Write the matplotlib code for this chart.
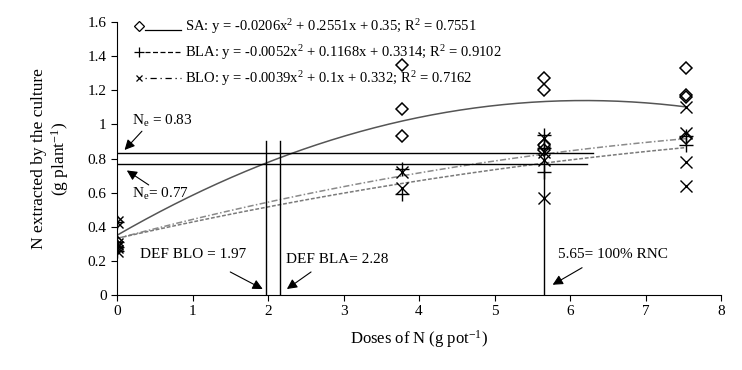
import numpy as np
import matplotlib
matplotlib.use('Agg')
import matplotlib.pyplot as plt
from matplotlib.lines import Line2D
from matplotlib.legend_handler import HandlerBase
from matplotlib.ticker import FuncFormatter, MultipleLocator

plt.rcParams['font.family'] = ['Liberation Serif', 'DejaVu Serif']
plt.rcParams['mathtext.fontset'] = 'custom'
plt.rcParams['mathtext.rm'] = 'Liberation Serif'
plt.rcParams['mathtext.it'] = 'Liberation Serif:italic'

sa_x = [0, 0, 0, 0, 3.77, 3.77, 3.77, 5.65, 5.65, 5.65, 5.65, 7.54, 7.54, 7.54, 7.54]
sa_y = [0.43, 0.31, 0.29, 0.27, 1.35, 1.09, 0.93, 1.27, 1.20, 0.88, 0.85, 1.33, 1.17, 1.16, 0.92]

bla_x = [0, 0, 0, 0, 3.77, 3.77, 5.65, 5.65, 5.65, 7.54, 7.54]
bla_y = [0.43, 0.31, 0.28, 0.26, 0.74, 0.59, 0.94, 0.86, 0.72, 0.93, 0.88]

blo_x = [0, 0, 0, 0, 3.77, 3.77, 5.65, 5.65, 5.65, 5.65, 7.54, 7.54, 7.54, 7.54]
blo_y = [0.43, 0.30, 0.28, 0.26, 0.72, 0.63, 0.92, 0.84, 0.79, 0.57, 1.10, 0.95, 0.78, 0.64]

# quadratic fits (a, b, c) from the equations in the legend
sa_coef = (-0.0206, 0.2551, 0.35)
bla_coef = (-0.0052, 0.1168, 0.3314)
blo_coef = (-0.0039, 0.1, 0.332)

ne_hi, ne_lo = 0.83, 0.77
def_blo, def_bla = 1.97, 2.16
rnc = 5.65


class MarkerThenLine(HandlerBase):
    # marker on the left, line sample to its right
    def create_artists(self, legend, orig_handle, xdescent, ydescent,
                       width, height, fontsize, trans):
        y = height/2 - ydescent
        x0 = -xdescent
        m = Line2D([x0 + 3.5], [y], marker=orig_handle.get_marker(), ls='none',
                   mfc=orig_handle.get_markerfacecolor(), mec='k',
                   ms=orig_handle.get_markersize(), mew=0.9, transform=trans)
        dy = -3 if orig_handle.get_linestyle() == '-' else 0
        l = Line2D([x0 + 8, x0 + width], [y + dy, y + dy], c='k', lw=0.9,
                   ls=orig_handle.get_linestyle(), transform=trans)
        if hasattr(orig_handle, 'dash_spec'):
            l.set_linestyle(orig_handle.dash_spec)
        return [m, l]


fig = plt.figure(figsize=(7.42, 3.70), dpi=100)
ax = fig.add_axes([0.1577, 0.2027, 0.8140, 0.7378])

xx = np.linspace(0, 7.54, 200)
def quad(c, x):
    return c[0]*x**2 + c[1]*x + c[2]

ax.plot(xx, quad(sa_coef, xx), '-', c='#555555', lw=1.1)
ax.plot(xx, quad(bla_coef, xx), linestyle=(0, (4, 1.5, 1, 1.5)), c='#8a8a8a', lw=1.1)
ax.plot(xx, quad(blo_coef, xx), linestyle=(0, (2.5, 1.2)), c='#7a7a7a', lw=1.1)

ax.plot(sa_x, sa_y, 'D', mfc='none', mec='k', ms=6, mew=1.1)
ax.plot(bla_x, bla_y, '+', c='k', ms=10, mew=1.0)
ax.plot(blo_x, blo_y, 'x', c='k', ms=9, mew=1.0)

# reference lines
ax.plot([0, 6.3], [ne_hi, ne_hi], c='k', lw=1.0)
ax.plot([0, 6.22], [ne_lo, ne_lo], c='k', lw=1.0)
ax.plot([def_blo, def_blo], [0, 0.905], c='k', lw=1.0)
ax.plot([def_bla, def_bla], [0, 0.905], c='k', lw=1.0)
ax.plot([rnc, rnc], [0, 0.93], c='k', lw=1.0)

arrow = dict(arrowstyle='-|>', color='k', lw=0.8, mutation_scale=15, shrinkA=0, shrinkB=0)
fs = 11
ax.annotate('', xy=(0.1, 0.85), xytext=(0.33, 0.96), arrowprops=arrow)
ax.text(0.2, 1.02, r'N$_\mathrm{e}$ = 0.83', fontsize=fs, va='center')
ax.annotate('', xy=(0.13, 0.73), xytext=(0.42, 0.645), arrowprops=arrow)
ax.text(0.2, 0.59, r'N$_\mathrm{e}$= 0.77', fontsize=fs, va='center')
ax.annotate('', xy=(1.93, 0.035), xytext=(1.5, 0.135), arrowprops=arrow)
ax.text(0.3, 0.235, 'DEF BLO = 1.97', fontsize=fs, va='center')
ax.annotate('', xy=(2.25, 0.035), xytext=(2.57, 0.135), arrowprops=arrow)
ax.text(2.24, 0.21, 'DEF BLA= 2.28', fontsize=fs, va='center')
ax.annotate('', xy=(5.77, 0.06), xytext=(6.16, 0.16), arrowprops=arrow)
ax.text(5.84, 0.24, '5.65= 100% RNC', fontsize=fs, va='center')

ax.set_xlim(0, 8)
ax.set_ylim(0, 1.6)
ax.xaxis.set_major_locator(MultipleLocator(1))
ax.yaxis.set_major_locator(MultipleLocator(0.2))
ax.yaxis.set_major_formatter(FuncFormatter(lambda v, p: '%g' % round(v, 2)))
ax.spines['top'].set_visible(False)
ax.spines['right'].set_visible(False)
ax.tick_params(direction='out', length=4, labelsize=fs, colors='k')
ax.set_xlabel(r'Doses of N (g pot$^{-1}$)', fontsize=12, labelpad=7)
ax.set_ylabel('N extracted by the culture\n' + r'(g plant$^{-1}$)', fontsize=12.5,
              linespacing=1.1, labelpad=12)

h_sa = Line2D([], [], marker='D', ls='-', mfc='none', ms=5)
h_bla = Line2D([], [], marker='+', ls='--', mfc='k', ms=7)
h_bla.dash_spec = (0, (4, 2))
h_blo = Line2D([], [], marker='x', ls='-.', mfc='k', ms=5)
h_blo.dash_spec = (0, (1, 3, 5, 3))
labels = [r'SA: y = -0.0206x$^2$ + 0.2551x + 0.35; R$^2$ = 0.7551',
          r'BLA: y = -0.0052x$^2$ + 0.1168x + 0.3314; R$^2$ = 0.9102',
          r'BLO: y = -0.0039x$^2$ + 0.1x + 0.332; R$^2$ = 0.7162']
ax.legend([h_sa, h_bla, h_blo], labels, handler_map={Line2D: MarkerThenLine()},
          loc='upper left', bbox_to_anchor=(0.007, 1.067), frameon=False, fontsize=10.5,
          handlelength=3.2, handletextpad=0.3, labelspacing=0.5)

fig.savefig('out.png', dpi=100)
